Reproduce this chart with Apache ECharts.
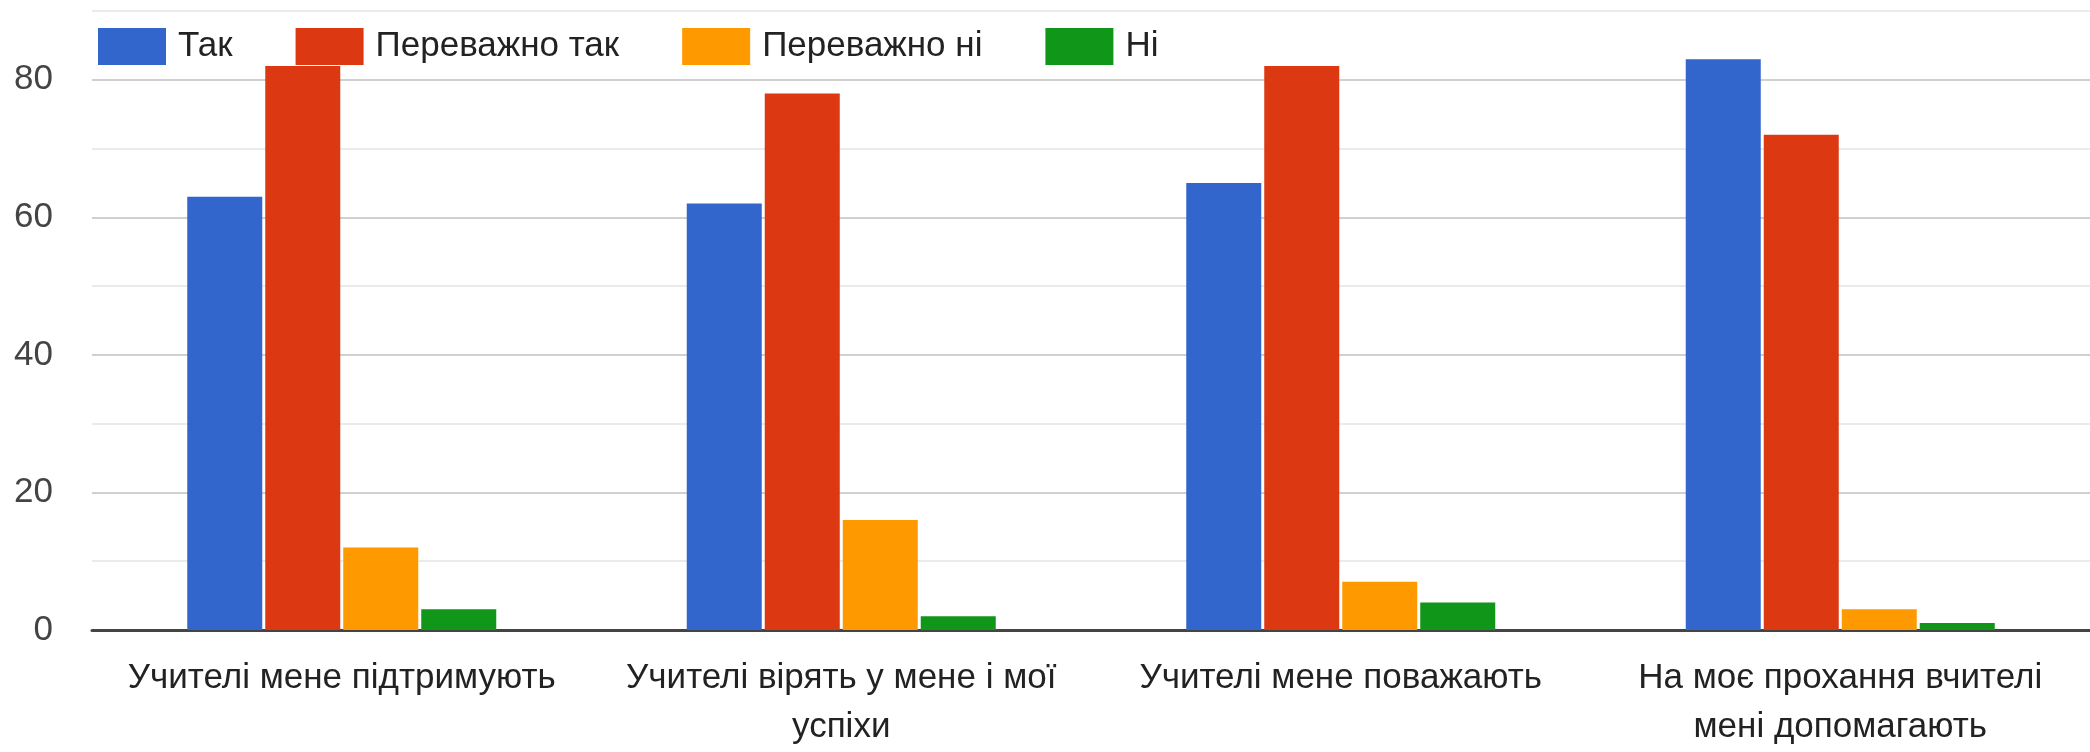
<!DOCTYPE html>
<html>
<head>
<meta charset="utf-8">
<title>Учителі</title>
<script src="https://cdn.jsdelivr.net/npm/echarts@6.0.0/dist/echarts.min.js"></script>
<style>
  html, body { margin: 0; padding: 0; background: #fff; }
  #chart { width: 2090px; height: 752px; }
</style>
</head>
<body>
<div id="chart"></div>
<script>
var categories = [
  'Учителі мене підтримують',
  'Учителі вірять у мене і мої\nуспіхи',
  'Учителі мене поважають',
  'На моє прохання вчителі\nмені допомагають'
];
var seriesNames = ['Так', 'Переважно так', 'Переважно ні', 'Ні'];
var yesValues = [63, 62, 65, 83];
var mostlyYesValues = [82, 78, 82, 72];
var mostlyNoValues = [12, 16, 7, 3];
var noValues = [3, 2, 4, 1];
var seriesColors = ['#3366cc', '#dc3912', '#ff9900', '#109618'];
var yMin = 0;
var yMax = 90;
var yStep = 10;
var yLabelStep = 20;

var font = "'Liberation Sans', Arial, sans-serif";
var chart = echarts.init(document.getElementById('chart'));

var allValues = [yesValues, mostlyYesValues, mostlyNoValues, noValues];
var series = seriesNames.map(function(name, i) {
  return {
    name: name,
    type: 'bar',
    data: allValues[i],
    barWidth: 75,
    barGap: '4%',
    itemStyle: { color: seriesColors[i] }
  };
});

chart.setOption({
  animation: false,
  textStyle: { fontFamily: font },
  legend: {
    left: 93,
    top: 23,
    icon: 'rect',
    itemWidth: 68,
    itemHeight: 37,
    itemGap: 63,
    textStyle: { fontSize: 35, color: '#222', fontFamily: font, padding: [0, 0, 0, 7] },
    data: seriesNames
  },
  grid: { left: 92, right: -14, top: 11, bottom: 120 },
  xAxis: {
    type: 'category',
    data: categories,
    axisTick: { show: false },
    axisLine: { lineStyle: { color: '#444', width: 3 } },
    axisLabel: {
      interval: 0,
      margin: 24,
      fontSize: 35,
      lineHeight: 49,
      color: '#222',
      fontFamily: font
    }
  },
  yAxis: {
    type: 'value',
    min: yMin,
    max: yMax,
    interval: yStep,
    axisLine: { show: false },
    axisTick: { show: false },
    axisLabel: {
      margin: 39,
      fontSize: 35,
      color: '#444',
      fontFamily: font,
      formatter: function(v) {
        return v % yLabelStep === 0 ? String(v) : '';
      }
    },
    splitLine: { lineStyle: { color: ['#d0d0d0', '#ebebeb'], width: 2 } }
  },
  series: series
});
</script>
</body>
</html>
